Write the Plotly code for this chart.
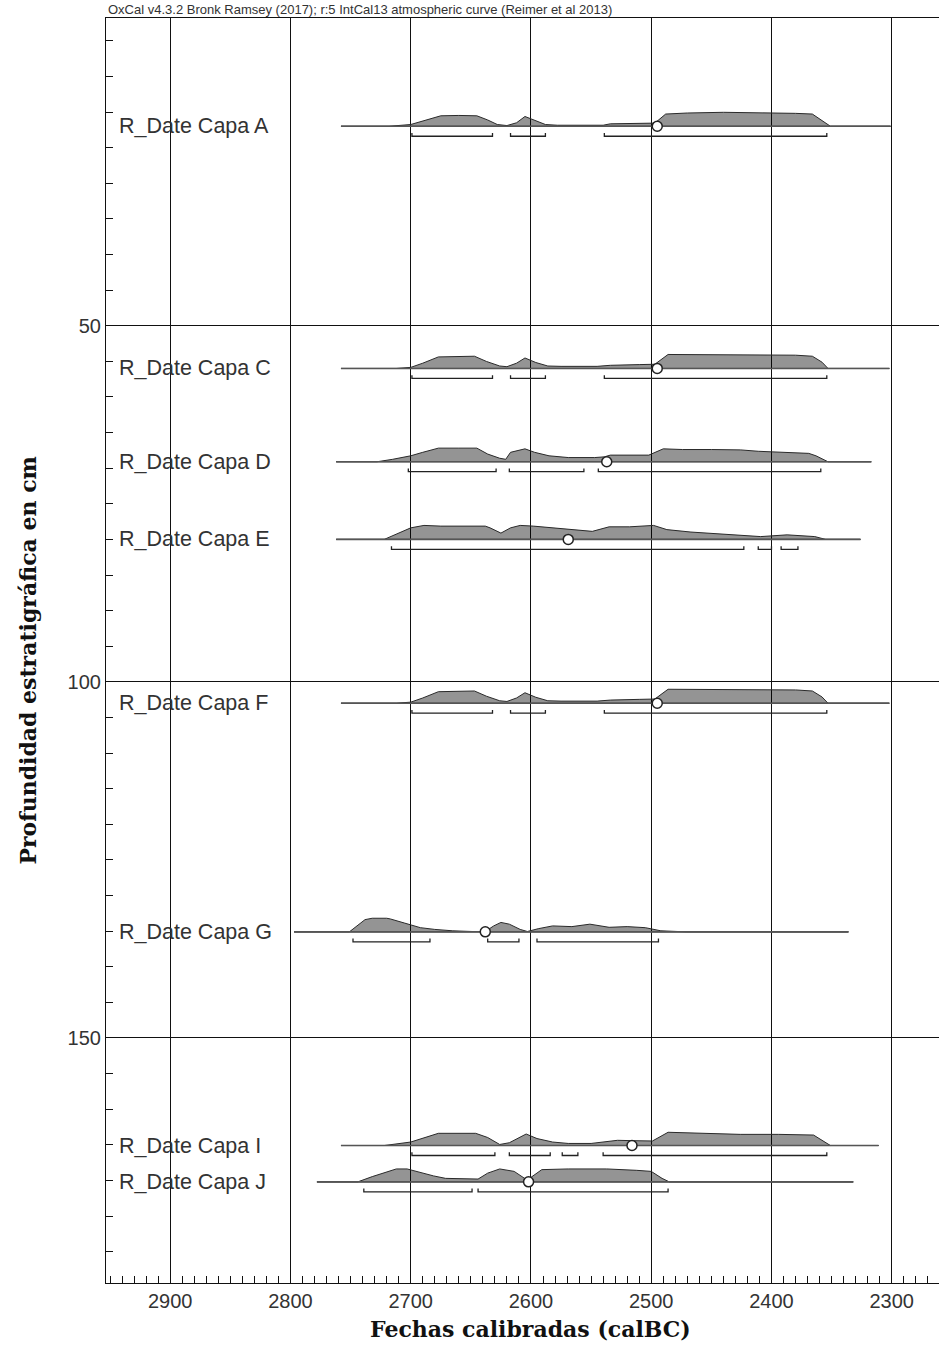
import plotly.graph_objects as go

# ---------------- data ----------------
labels = ["R_Date Capa A", "R_Date Capa C", "R_Date Capa D", "R_Date Capa E",
          "R_Date Capa F", "R_Date Capa G", "R_Date Capa I", "R_Date Capa J"]
depths = [22.0, 56.0, 69.1, 80.0, 103.0, 135.1, 165.1, 170.2]

# probability curves: calendar years (calBC) and relative heights
years_A = [2758, 2718, 2700, 2690, 2675, 2660, 2645, 2636, 2628, 2620, 2612, 2605, 2597, 2588, 2578, 2560,
           2540, 2534, 2520, 2502, 2497, 2488, 2470, 2440, 2410, 2394, 2380, 2366, 2358, 2351, 2301]
dens_A = [0, 0, 5, 15, 30, 31, 30, 18, 5, 2, 10, 28, 18, 5, 3, 3,
          3, 7, 8, 8, 9, 35, 38, 40, 39, 38, 37, 35, 15, 0, 0]

years_C = [2758, 2712, 2700, 2690, 2677, 2660, 2647, 2637, 2626, 2620, 2612, 2605, 2596, 2586, 2575, 2545,
           2534, 2510, 2502, 2497, 2486, 2460, 2430, 2400, 2380, 2366, 2358, 2353, 2302]
dens_C = [0, 0, 3, 15, 33, 34, 35, 20, 7, 5, 15, 30, 17, 7, 6, 6,
          9, 11, 11, 12, 40, 40, 40, 38, 38, 35, 18, 0, 0]

years_D = [2762, 2728, 2715, 2700, 2690, 2677, 2660, 2645, 2636, 2626, 2621, 2617, 2605, 2597, 2585, 2569,
           2547, 2539, 2534, 2502, 2490, 2474, 2450, 2426, 2411, 2390, 2369, 2363, 2353, 2317]
dens_D = [0, 0, 7, 17, 27, 39, 39, 39, 22, 10, 7, 27, 37, 27, 17, 12,
          12, 14, 19, 19, 37, 35, 35, 34, 30, 28, 24, 17, 0, 0]

years_E = [2762, 2722, 2700, 2689, 2675, 2655, 2638, 2634, 2625, 2617, 2609, 2598, 2575, 2549, 2535, 2518,
           2498, 2487, 2467, 2447, 2432, 2409, 2387, 2364, 2355, 2326]
dens_E = [0, 0, 33, 40, 38, 38, 38, 33, 18, 33, 40, 38, 31, 23, 36, 36,
          40, 28, 21, 16, 13, 8, 13, 8, 0, 0]

years_F = [2758, 2712, 2700, 2690, 2677, 2660, 2647, 2637, 2626, 2620, 2612, 2605, 2596, 2586, 2575, 2545,
           2534, 2510, 2502, 2497, 2486, 2460, 2430, 2400, 2380, 2366, 2358, 2353, 2302]
dens_F = [0, 0, 3, 15, 33, 34, 35, 20, 7, 5, 15, 30, 17, 7, 6, 6,
          9, 11, 11, 12, 40, 40, 40, 38, 38, 35, 18, 0, 0]

years_G = [2797, 2751, 2738, 2732, 2720, 2717, 2705, 2692, 2680, 2665, 2649, 2638, 2631, 2625, 2618, 2609,
           2603, 2594, 2582, 2566, 2551, 2535, 2520, 2505, 2492, 2471, 2336]
dens_G = [0, 0, 35, 39, 39, 37, 25, 12, 7, 3, 1, 1, 17, 27, 22, 7,
          1, 9, 17, 15, 22, 13, 15, 12, 3, 0, 0]

years_I = [2758, 2722, 2700, 2677, 2646, 2636, 2626, 2618, 2604, 2595, 2582, 2569, 2550, 2540, 2528, 2517,
           2499, 2486, 2458, 2426, 2394, 2365, 2351, 2311]
dens_I = [0, 0, 10, 35, 35, 23, 3, 8, 33, 20, 10, 6, 6, 10, 15, 14,
          13, 38, 36, 32, 32, 30, 0, 0]

years_J = [2778, 2744, 2732, 2719, 2712, 2703, 2696, 2681, 2671, 2658, 2644, 2636, 2626, 2614, 2604, 2602,
           2591, 2569, 2537, 2512, 2500, 2491, 2485, 2332]
dens_J = [0, 0, 15, 30, 37, 37, 30, 17, 10, 8, 8, 25, 37, 30, 7, 8,
          35, 37, 37, 33, 30, 10, 0, 0]

# medians (white circles)
medians = [2495, 2495, 2537, 2569, 2495, 2638, 2516, 2602]

# highest-probability ranges (brackets)
ranges_A = [(2699, 2632), (2617, 2588), (2539, 2354)]
ranges_C = [(2699, 2632), (2617, 2588), (2539, 2354)]
ranges_D = [(2702, 2629), (2618, 2556), (2544, 2359)]
ranges_E = [(2716, 2423), (2411, 2400), (2392, 2378)]
ranges_F = [(2699, 2632), (2617, 2588), (2539, 2354)]
ranges_G = [(2748, 2684), (2636, 2610), (2595, 2494)]
ranges_I = [(2699, 2630), (2618, 2584), (2574, 2561), (2540, 2354)]
ranges_J = [(2739, 2649), (2644, 2486)]

x_ticks = [2900, 2800, 2700, 2600, 2500, 2400, 2300]
y_ticks = [50, 100, 150]

header = "OxCal v4.3.2 Bronk Ramsey (2017); r:5 IntCal13 atmospheric curve (Reimer et al 2013)"

# ---------------- figure ----------------
years_all = [years_A, years_C, years_D, years_E, years_F, years_G, years_I, years_J]
dens_all = [dens_A, dens_C, dens_D, dens_E, dens_F, dens_G, dens_I, dens_J]
ranges_all = [ranges_A, ranges_C, ranges_D, ranges_E, ranges_F, ranges_G, ranges_I, ranges_J]

HSCALE = 0.049      # depth units per density unit
BR_OFF = 1.4        # bracket offset below baseline
BR_TICK = 0.45      # bracket end tick height

fig = go.Figure()
for lab, d, ys, ds, rg, med in zip(labels, depths, years_all, dens_all, ranges_all, medians):
    top = [d - h * HSCALE for h in ds]
    fig.add_trace(go.Scatter(
        x=ys + ys[::-1], y=top + [d] * len(ys), mode="lines", fill="toself",
        fillcolor="rgba(0,0,0,0.42)", line=dict(color="#2a2a2a", width=1),
        hoverinfo="skip", showlegend=False))
    fig.add_trace(go.Scatter(
        x=[ys[0], ys[-1]], y=[d, d], mode="lines",
        line=dict(color="#555555", width=1.6), hoverinfo="skip", showlegend=False))
    bx, by = [], []
    for a, b in rg:
        bx += [a, a, b, b, None]
        by += [d + BR_OFF - BR_TICK, d + BR_OFF, d + BR_OFF, d + BR_OFF - BR_TICK, None]
    fig.add_trace(go.Scatter(x=bx, y=by, mode="lines",
                             line=dict(color="#222222", width=1.3),
                             hoverinfo="skip", showlegend=False))
    fig.add_trace(go.Scatter(x=[med], y=[d], mode="markers",
                             marker=dict(size=10, color="white",
                                         line=dict(color="#222222", width=1.5)),
                             hoverinfo="skip", showlegend=False))
    fig.add_annotation(x=2944, y=d, text=lab, showarrow=False, xanchor="left",
                       yanchor="middle", font=dict(family="Liberation Sans", size=21.5, color="#333333"))

fig.add_annotation(x=0, y=1, xref="paper", yref="paper", text=header, showarrow=False,
                   xanchor="left", yanchor="bottom", yshift=-1,
                   font=dict(family="Liberation Sans", size=13, color="#333333"))
fig.add_annotation(x=0.315, y=0, xref="paper", yref="paper", text="<b>Fechas calibradas (calBC)</b>",
                   showarrow=False, xanchor="left", yanchor="middle", yshift=-46,
                   font=dict(family="DejaVu Serif", size=22, color="#111111"))
fig.add_annotation(x=0, y=0.492, xref="paper", yref="paper", text="<b>Profundidad estratigráfica en cm</b>",
                   showarrow=False, xanchor="center", yanchor="middle", xshift=-78, textangle=-90,
                   font=dict(family="DejaVu Serif", size=22, color="#111111"))

fig.update_layout(
    width=939, height=1348,
    margin=dict(l=106, r=0, t=18, b=65),
    paper_bgcolor="white", plot_bgcolor="white",
    showlegend=False,
    xaxis=dict(range=[2953.4, 2260.7], tickvals=x_ticks, showgrid=True, gridcolor="#111111",
               gridwidth=1, zeroline=False, showline=True, linecolor="#111111", linewidth=1.2,
               mirror=True, ticks="inside", ticklen=8, tickcolor="#111111",
               minor=dict(dtick=10, tick0=0, ticks="inside", ticklen=7, tickcolor="#111111",
                          showgrid=False),
               tickfont=dict(family="Liberation Sans", size=20, color="#333333")),
    yaxis=dict(range=[184.4, 6.8], tickvals=y_ticks, showgrid=True, gridcolor="#111111",
               gridwidth=1, zeroline=False, showline=True, linecolor="#111111", linewidth=1.2,
               ticks="inside", ticklen=7, tickcolor="#111111",
               minor=dict(dtick=5, tick0=0, ticks="inside", ticklen=7, tickcolor="#111111",
                          showgrid=False),
               tickfont=dict(family="Liberation Sans", size=20, color="#333333")),
)

fig.write_html("out.html")
